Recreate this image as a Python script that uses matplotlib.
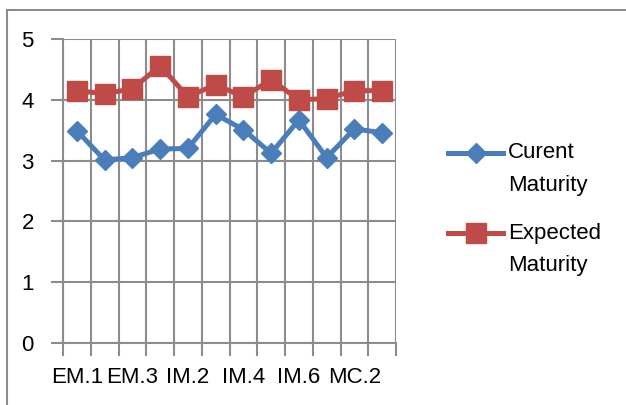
import numpy as np
import matplotlib.pyplot as plt
from matplotlib.patches import Rectangle
from matplotlib.lines import Line2D

categories = ["EM.1", "EM.2", "EM.3", "IM.1", "IM.2", "IM.3",
              "IM.4", "IM.5", "IM.6", "MC.1", "MC.2", "MC.3"]
current = [3.49, 3.01, 3.05, 3.19, 3.20, 3.76, 3.51, 3.12, 3.67, 3.05, 3.52, 3.46]
expected = [4.15, 4.10, 4.18, 4.56, 4.05, 4.25, 4.05, 4.33, 4.00, 4.02, 4.15, 4.15]
series_names = [("Curent", "Maturity"), ("Expected", "Maturity")]

plt.rcParams['font.family'] = ['Liberation Sans', 'DejaVu Sans']
grey = '#8c8c8c'
blue = '#4a7ebb'
red = '#be4b48'
fs = 16

fig = plt.figure(figsize=(6.26, 4.05), dpi=100)
W, H = 626, 405
ax = fig.add_axes([63/W, 62/H, 333/W, 304/H])

x = np.arange(len(categories))
styles = [dict(color=blue, lw=3.6, marker='D', ms=10),
          dict(color=red, lw=3.6, marker='s', ms=14)]
ax.plot(x, current, zorder=3, **styles[0])
ax.plot(x, expected, zorder=3, **styles[1])

ax.set_xlim(-0.5, len(categories) - 0.5)
ax.set_ylim(0, 5)
ax.set_yticks(range(6))

# boundaries get ticks + grid, centres get labels (every other one)
ax.set_xticks(np.arange(-0.5, len(categories)))
ax.set_xticklabels([])
ax.set_xticks(x[::2], minor=True)
ax.set_xticklabels(categories[::2], minor=True)
ax.tick_params(axis='x', which='minor', length=0, pad=17, labelsize=fs)
ax.tick_params(axis='x', which='major', length=9, width=1.5, color=grey)
ax.tick_params(axis='y', length=9, width=1.5, color=grey, pad=12, labelsize=fs)

ax.grid(True, which='major', color=grey, lw=1.5)
ax.set_axisbelow(True)
for s in ['top', 'right']:
    ax.spines[s].set_visible(False)
for s in ['left', 'bottom']:
    ax.spines[s].set_color(grey)
    ax.spines[s].set_linewidth(1.5)

# legend, drawn by hand so the key sits on the first text line
for (l1, l2), st, yk in zip(series_names, styles, [153, 233]):
    yk = 1 - yk / H
    fig.add_artist(Line2D([448/W, 503/W], [yk, yk], markevery=[], **st))
    fig.add_artist(Line2D([475.5/W], [yk], **st))
    fig.text(508/W, yk, l1, fontsize=fs, va='center')
    fig.text(508/W, yk - 32/H, l2, fontsize=fs, va='center')

fig.patches.append(Rectangle((7/W, -0.2), 1.2, 1.2 - 10/H, transform=fig.transFigure,
                             fill=False, edgecolor=grey, lw=1.5))

fig.savefig('out.png', dpi=100)
